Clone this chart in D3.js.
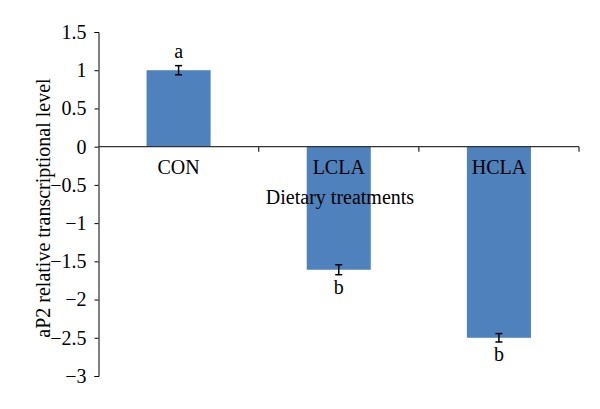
<!DOCTYPE html>
<html>
<head>
<meta charset="utf-8">
<script src="https://cdn.jsdelivr.net/npm/d3@7"></script>
<style>
body { margin: 0; background: #fff; }
</style>
</head>
<body>
<script>
var categories = ["CON", "LCLA", "HCLA"];
var values = [1.0, -1.61, -2.5];
var errors = [0.06, 0.065, 0.055];
var letters = ["a", "b", "b"];
var yTicks = [1.5, 1, 0.5, 0, -0.5, -1, -1.5, -2, -2.5, -3];

var width = 600;
var height = 409;
var fontFamily = "'Liberation Serif', 'Times New Roman', Times, serif";
var fontSize = "20px";

var svg = d3.select("body").append("svg")
.attr("width", width)
.attr("height", height)
.style("font-family", fontFamily);

var x = d3.scaleBand()
.domain(categories)
.range([98.5, 579])
.paddingInner(0.6)
.paddingOuter(0.3);

var y = d3.scaleLinear()
.domain([-3, 1.5])
.range([376, 32]);

// y axis
var yAxis = svg.append("g")
.attr("transform", "translate(98.5,0)")
.call(d3.axisLeft(y).tickValues(yTicks).tickSize(4).tickPadding(8)
  .tickFormat(function (d) { return d3.format("")(d).replace("-", "\u2212"); }));
yAxis.attr("font-family", fontFamily).attr("font-size", fontSize);
yAxis.selectAll("text")
.attr("fill", "#000")
.style("font-family", fontFamily)
.style("font-size", fontSize);
yAxis.select(".domain").attr("stroke", "#000");
yAxis.selectAll(".tick line").attr("stroke", "#000");

// bars
svg.selectAll("rect.bar")
.data(values)
.enter()
.append("rect")
.attr("class", "bar")
.attr("x", function (d, i) { return x(categories[i]); })
.attr("width", x.bandwidth())
.attr("y", function (d) { return y(Math.max(0, d)); })
.attr("height", function (d) { return Math.abs(y(d) - y(0)); })
.attr("fill", "#4f81bd");

// zero line with category boundary ticks
var step = x.step();
svg.append("line")
.attr("x1", 98.5).attr("x2", 579)
.attr("y1", y(0)).attr("y2", y(0))
.attr("stroke", "#333").attr("stroke-width", 1.3);
[1, 2, 3].forEach(function (k) {
  var bx = x.range()[0] + k * step;
  svg.append("line")
  .attr("x1", bx).attr("x2", bx)
  .attr("y1", y(0)).attr("y2", y(0) + 5)
  .attr("stroke", "#333").attr("stroke-width", 1.3);
});

// error bars
var eb = svg.selectAll("g.err")
.data(values)
.enter()
.append("g")
.attr("class", "err");
eb.append("line")
.attr("x1", function (d, i) { return x(categories[i]) + x.bandwidth() / 2; })
.attr("x2", function (d, i) { return x(categories[i]) + x.bandwidth() / 2; })
.attr("y1", function (d, i) { return y(d + errors[i]); })
.attr("y2", function (d, i) { return y(d - errors[i]); })
.attr("stroke", "#000").attr("stroke-width", 1.5);
[1, -1].forEach(function (s) {
  eb.append("line")
  .attr("x1", function (d, i) { return x(categories[i]) + x.bandwidth() / 2 - 3.5; })
  .attr("x2", function (d, i) { return x(categories[i]) + x.bandwidth() / 2 + 3.5; })
  .attr("y1", function (d, i) { return y(d + s * errors[i]); })
  .attr("y2", function (d, i) { return y(d + s * errors[i]); })
  .attr("stroke", "#000").attr("stroke-width", 1.5);
});

// significance letters
svg.selectAll("text.letter")
.data(values)
.enter()
.append("text")
.attr("class", "letter")
.attr("x", function (d, i) { return x(categories[i]) + x.bandwidth() / 2; })
.attr("y", function (d, i) {
  return d >= 0 ? y(d + errors[i]) - 8 : y(d - errors[i]) + 19;
})
.attr("text-anchor", "middle")
.style("font-size", fontSize)
.text(function (d, i) { return letters[i]; });

// category labels
svg.selectAll("text.cat")
.data(categories)
.enter()
.append("text")
.attr("class", "cat")
.attr("x", function (d) { return x(d) + x.bandwidth() / 2; })
.attr("y", 174)
.attr("text-anchor", "middle")
.style("font-size", fontSize)
.text(function (d) { return d; });

// axis titles
svg.append("text")
.attr("x", 340)
.attr("y", 204)
.attr("text-anchor", "middle")
.style("font-size", fontSize)
.text("Dietary treatments");

svg.append("text")
.attr("transform", "translate(50," + 208 + ") rotate(-90)")
.attr("text-anchor", "middle")
.style("font-size", fontSize)
.text("aP2 relative transcriptional level");
</script>
</body>
</html>
